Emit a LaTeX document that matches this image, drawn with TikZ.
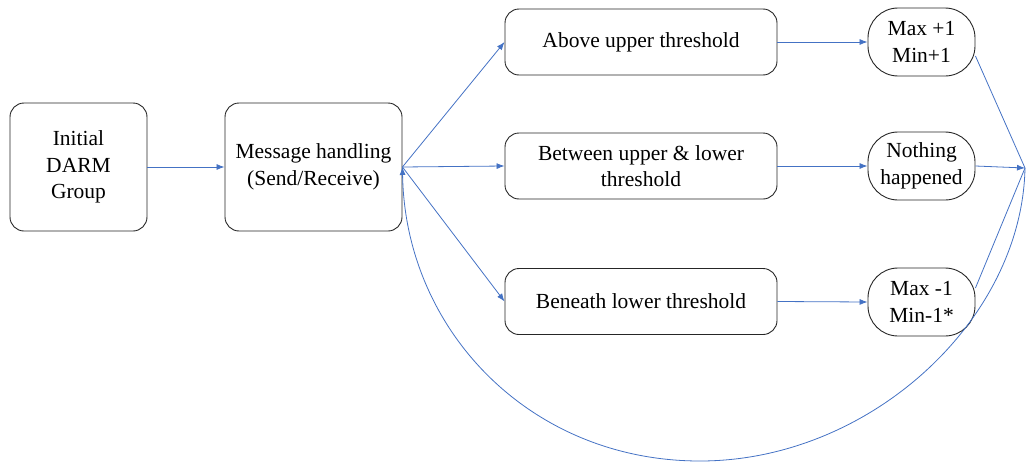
\documentclass[tikz,border=0pt]{standalone}
\usepackage{fontspec}
\setmainfont{Liberation Serif}
\newfontfamily\labelfont{Liberation Serif}
\usetikzlibrary{arrows.meta}
\definecolor{flow}{RGB}{68,114,196}
\begin{document}
\begin{tikzpicture}[x=1pt,y=-1pt,
  every node/.style={font=\labelfont\fontsize{21.5}{26.5}\selectfont, align=center, inner sep=0pt},
  stepbox/.style={draw=black!85, line width=0.9pt, rounded corners=14pt},
  resultbox/.style={draw=black!85, line width=0.9pt, rounded corners=30pt,
    minimum width=107pt, minimum height=68pt},
  flowline/.style={draw=flow, line width=0.8pt},
  flowarrow/.style={flowline, -{Latex[length=8pt,width=6pt]}}]
\useasboundingbox (0,0) rectangle (1028,463);

% process boxes
\node[stepbox, minimum width=137pt, minimum height=128pt] (init) at (78.5,167) {Initial\\DARM\\Group};
\node[stepbox, minimum width=177pt, minimum height=128pt] (msg) at (313.5,167) {Message handling\\(Send/Receive)};

\node[stepbox, minimum width=272pt, minimum height=66pt] (above) at (641,42) {Above upper threshold};
\node[stepbox, minimum width=272pt, minimum height=66pt] (between) at (641,166) {Between upper \& lower\\threshold};
\node[stepbox, minimum width=272pt, minimum height=66pt] (beneath) at (641,301.5) {Beneath lower threshold};

% outcomes
\node[resultbox] (plus) at (921.5,42) {Max +1\\Min+1};
\node[resultbox] (none) at (921.5,166) {Nothing\\happened};
\node[resultbox] (minus) at (921.5,302) {Max -1\\Min-1*};

\coordinate (merge) at (1025,168);

% connectors
\draw[flowarrow] (init.east) -- (msg.west);
\draw[flowarrow] (msg.east) -- (above.west);
\draw[flowarrow] (msg.east) -- (between.west);
\draw[flowarrow] (msg.east) -- (beneath.west);
\draw[flowarrow] (above.east) -- (plus.west);
\draw[flowarrow] (between.east) -- (none.west);
\draw[flowarrow] (beneath.east) -- (minus.west);

\draw[flowline] ([yshift=-14pt]plus.east) -- (merge);
\draw[flowline] ([yshift=14pt]minus.east) -- (merge);
\draw[flowarrow] (none.east) -- (merge);

% feedback loop back to message handling
\draw[flowarrow] (merge) .. controls (1022,320) and (870,461) .. (700,461)
  .. controls (530,461) and (405,330) .. (msg.east);
\end{tikzpicture}
\end{document}
